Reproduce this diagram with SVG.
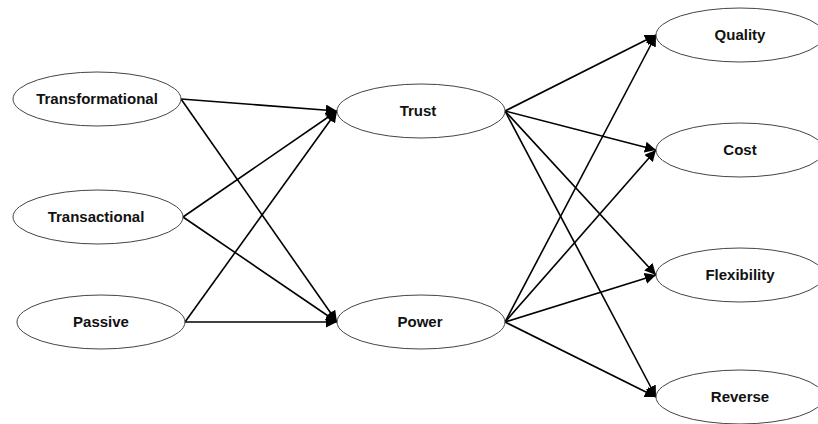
<svg xmlns="http://www.w3.org/2000/svg" width="818" height="424" viewBox="0 0 818 424">
<style>
.n ellipse{fill:#fff;stroke:#444;stroke-width:1}
.n text{font-family:"Liberation Sans",Arial,sans-serif;font-weight:bold;font-size:15px;text-anchor:middle;fill:#111}
.c line{stroke:#000;stroke-width:1.6;marker-end:url(#ah)}
</style>
<defs>
<marker id="ah" viewBox="0 0 10 10" refX="10" refY="5" markerWidth="7" markerHeight="7" markerUnits="strokeWidth" orient="auto">
<path d="M0,0 L10,5 L0,10 z" fill="#000"/>
</marker>
</defs>
<rect width="818" height="424" fill="#fff"/>
<g id="connectors" class="c">
<line x1="181" y1="99" x2="337" y2="111"/>
<line x1="181" y1="99" x2="337" y2="322"/>
<line x1="183" y1="217" x2="337" y2="111"/>
<line x1="183" y1="217" x2="337" y2="322"/>
<line x1="185" y1="322" x2="337" y2="111"/>
<line x1="185" y1="322" x2="337" y2="322"/>
<line x1="505" y1="111" x2="656" y2="35"/>
<line x1="505" y1="111" x2="656" y2="150"/>
<line x1="505" y1="111" x2="656" y2="275"/>
<line x1="505" y1="111" x2="656" y2="397"/>
<line x1="505" y1="322" x2="656" y2="35"/>
<line x1="505" y1="322" x2="656" y2="150"/>
<line x1="505" y1="322" x2="656" y2="275"/>
<line x1="505" y1="322" x2="656" y2="397"/>
</g>
<g id="transformational" class="n"><ellipse cx="97" cy="99" rx="84" ry="27"/><text x="97" y="104">Transformational</text></g>
<g id="transactional" class="n"><ellipse cx="98" cy="217" rx="85" ry="27"/><text x="96" y="222">Transactional</text></g>
<g id="passive" class="n"><ellipse cx="101" cy="322" rx="84" ry="27"/><text x="101" y="327">Passive</text></g>
<g id="trust" class="n"><ellipse cx="421" cy="111" rx="84" ry="27"/><text x="418" y="116">Trust</text></g>
<g id="power" class="n"><ellipse cx="421" cy="322" rx="84" ry="27"/><text x="420" y="327">Power</text></g>
<g id="quality" class="n"><ellipse cx="740" cy="35" rx="84" ry="27"/><text x="740" y="40">Quality</text></g>
<g id="cost" class="n"><ellipse cx="740" cy="150" rx="84" ry="27"/><text x="740" y="155">Cost</text></g>
<g id="flexibility" class="n"><ellipse cx="740" cy="275" rx="84" ry="27"/><text x="740" y="280">Flexibility</text></g>
<g id="reverse" class="n"><ellipse cx="740" cy="397" rx="84" ry="27"/><text x="740" y="402">Reverse</text></g>
</svg>
